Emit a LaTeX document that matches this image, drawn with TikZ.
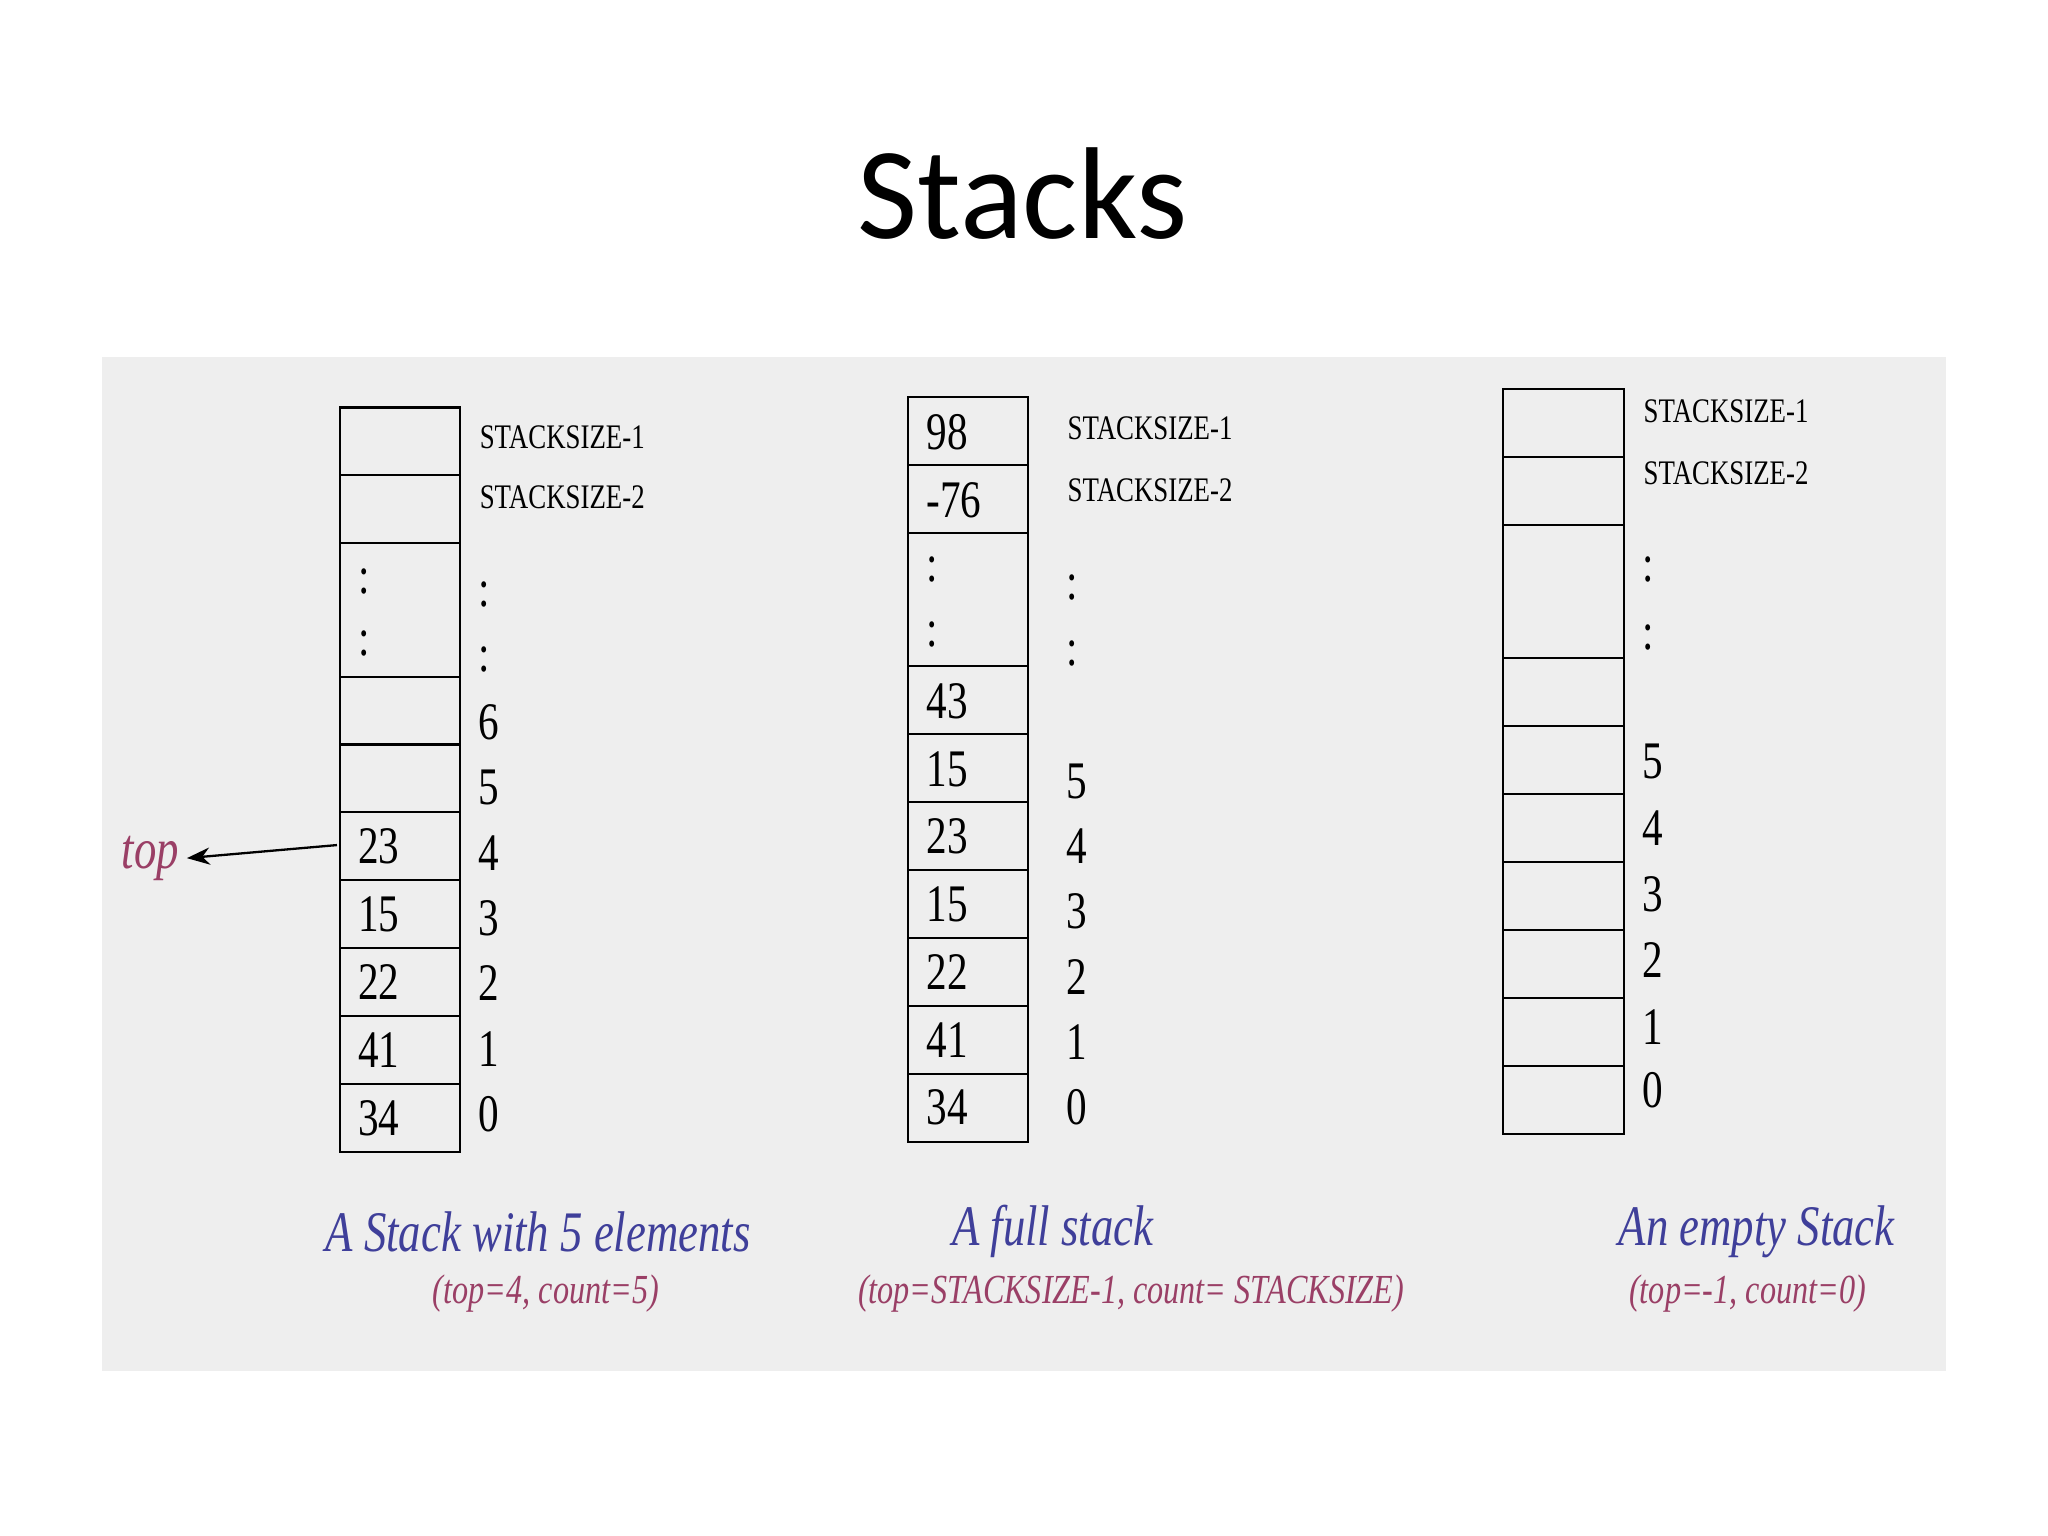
\documentclass[tikz,border=0pt]{standalone}
\usepackage{fontspec}
\setmainfont{Liberation Serif}
\newfontfamily\cond[FakeStretch=0.78]{Liberation Serif}
\newfontfamily\ttl{Carlito}
\usetikzlibrary{arrows.meta}
\definecolor{panel}{HTML}{EEEEEE}
\definecolor{capblue}{HTML}{3F3F9A}
\definecolor{capred}{HTML}{9A3F66}
\tikzset{
  cell/.style={draw,line width=0.9pt},
  num/.style={font=\cond\fontsize{23}{23}\selectfont,inner sep=0pt,anchor=west},
  ssz/.style={font=\cond\fontsize{15}{15}\selectfont,inner sep=0pt,anchor=west},
  captext/.style={font=\cond\itshape\fontsize{25}{25}\selectfont,text=capblue,inner sep=0pt},
  subtext/.style={font=\cond\itshape\fontsize{18}{18}\selectfont,text=capred,inner sep=0pt}
}
\begin{document}
\begin{tikzpicture}[x=0.02cm,y=-0.02cm]
\useasboundingbox (0,0) rectangle (1568,1176);
\fill[white] (0,0) rectangle (1568,1176);
\fill[panel] (78,273) rectangle (1490,1050);
\node[font=\ttl\fontsize{57}{57}\selectfont] (title) at (783,148) {Stacks};
% stack 1
\foreach \a/\b in {312/364,364/416,416/518,518/570,570/622,622/674,674/726,726/778,778/830,830/882}
  \draw[cell] (260,\a) rectangle (352,\b);
\foreach \t/\y in {23/648,15/700,22/752,41/804,34/856} \node[num] at (274,\y) {\t};
\node[num] at (274,445) {:}; \node[num] at (274,493) {:};
\node[ssz] at (367,335) {STACKSIZE-1};
\node[ssz] at (367,381) {STACKSIZE-2};
\foreach \t/\y in {:/455,:/505,6/553,5/603,4/653,3/703,2/753,1/803,0/853} \node[num] at (366,\y) {\t};
\node[font=\cond\itshape\fontsize{25}{25}\selectfont,text=capred] (top) at (115,657) {top};
\coordinate (ta) at (258,647);
\draw[line width=1pt,-{Stealth[length=10pt]}] (ta) -- (top.east);
\node[captext] (c1) at (412,943) {A Stack with 5 elements};
\node[subtext] (s1) at (418,990) {(top=4, count=5)};
% stack 2
\foreach \a/\b in {304/356,356/408,408/510,510/562,562/614,614/666,666/718,718/770,770/822,822/874}
  \draw[cell] (695,\a) rectangle (787,\b);
\foreach \t/\y in {98/331,-76/383,43/537,15/589,23/640,15/692,22/744,41/796,34/848} \node[num] at (709,\y) {\t};
\node[num] at (709,436) {:}; \node[num] at (709,486) {:};
\node[ssz] at (817,328) {STACKSIZE-1};
\node[ssz] at (817,375) {STACKSIZE-2};
\foreach \t/\y in {:/450,:/500,5/598,4/648,3/698,2/748,1/798,0/848} \node[num] at (816,\y) {\t};
\node[captext] (c2) at (806,943) {A full stack};
\node[subtext] (s2) at (866,990) {(top=STACKSIZE-1, count= STACKSIZE)};
% stack 3
\foreach \a/\b in {298/350,350/402,402/504,504/556,556/608,608/660,660/712,712/764,764/816,816/868}
  \draw[cell] (1151,\a) rectangle (1243,\b);
\node[ssz] at (1258,315) {STACKSIZE-1};
\node[ssz] at (1258,362) {STACKSIZE-2};
\foreach \t/\y in {:/436,:/488,5/583,4/634,3/685,2/735,1/786,0/835} \node[num] at (1257,\y) {\t};
\node[captext] (c3) at (1345,943) {An empty Stack};
\node[subtext] (s3) at (1338,990) {(top=-1, count=0)};
\end{tikzpicture}
\end{document}
